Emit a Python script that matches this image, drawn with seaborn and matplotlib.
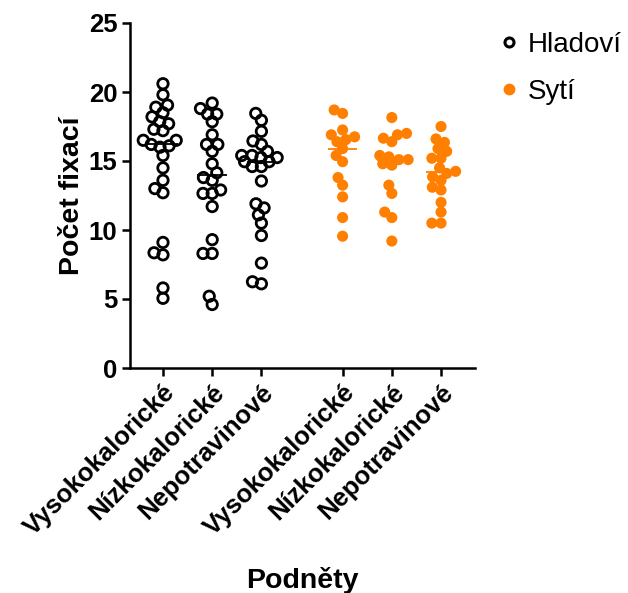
import numpy as np
import pandas as pd
import matplotlib
matplotlib.use("Agg")
import matplotlib.pyplot as plt
import seaborn as sns
from matplotlib.lines import Line2D

sns.set_theme(style="ticks")
plt.rcParams['font.family'] = ['Liberation Sans', 'DejaVu Sans']
plt.rcParams['text.color'] = 'black'
plt.rcParams['axes.labelcolor'] = 'black'
plt.rcParams['xtick.color'] = 'black'
plt.rcParams['ytick.color'] = 'black'

categories = ["Vysokokalorické", "Nízkokalorické", "Nepotravinové",
              "Vysokokalorické", "Nízkokalorické", "Nepotravinové"]
groups = ["Hladoví", "Hladoví", "Hladoví", "Sytí", "Sytí", "Sytí"]
positions = [0, 1, 2, 3.65, 4.65, 5.65]

hladovi_vysoko = [20.6, 19.8, 19.05, 18.9, 18.5, 18.2, 17.85, 17.7, 17.3, 17.2,
                  16.5, 16.5, 16.2, 16.1, 16.0, 15.4, 14.5, 13.6, 13.0, 12.7,
                  9.1, 8.35, 8.2, 5.8, 5.05]
hladovi_nizko = [19.2, 18.8, 18.4, 18.4, 17.85, 16.9, 16.2, 16.2, 15.7, 14.8,
                 14.15, 13.8, 13.6, 12.9, 12.65, 12.65, 11.7, 9.3, 8.3, 8.3,
                 5.2, 4.6]
hladovi_nepotr = [18.45, 17.95, 17.15, 16.45, 16.2, 15.7, 15.4, 15.4, 15.25,
                  15.25, 14.95, 14.95, 14.6, 14.6, 13.55, 11.9, 11.6, 11.1,
                  10.5, 9.6, 7.6, 6.25, 6.1]
syti_vysoko = [18.7, 18.45, 17.25, 16.9, 16.75, 16.55, 16.4, 15.9, 15.4, 14.95,
               13.8, 13.25, 12.4, 10.9, 9.55]
syti_nizko = [18.15, 17.0, 16.9, 16.65, 16.4, 15.4, 15.1, 15.1, 15.3, 14.7,
              14.8, 13.25, 12.65, 11.3, 10.9, 9.2]
syti_nepotr = [17.5, 16.6, 16.35, 15.9, 15.7, 15.2, 15.2, 14.25, 14.1, 14.5,
               13.85, 13.6, 13.1, 12.9, 12.0, 11.3, 10.5, 10.5]

series = [hladovi_vysoko, hladovi_nizko, hladovi_nepotr,
          syti_vysoko, syti_nizko, syti_nepotr]

rows = []
for pos, grp, vals in zip(positions, groups, series):
    for v in vals:
        rows.append({"pos": pos, "value": v, "group": grp})
df = pd.DataFrame(rows)

orange = "#FF8000"
fig = plt.figure(figsize=(6.28, 5.93), dpi=100)
ax = fig.add_axes([130/628, 1 - 368/593, (475 - 130)/628, (368 - 23)/593])

hung = df[df.group == "Hladoví"]
sated = df[df.group == "Sytí"]

# lay out the swarm with a smaller footprint, then enlarge markers (overlap like the reference)
sns.swarmplot(data=hung, x="pos", y="value", native_scale=True, color="black",
              size=6.3, ax=ax, zorder=3)
n_h = len(ax.collections)
sns.swarmplot(data=sated, x="pos", y="value", native_scale=True, color=orange,
              size=6.3, ax=ax, zorder=3, linewidth=0)

ax.set_xlim(-0.67, 6.34)
ax.set_ylim(0, 25)
fig.canvas.draw()
for i, coll in enumerate(list(ax.collections)):
    if "draw" in coll.__dict__:
        del coll.draw
    if i < n_h:
        coll.set_facecolor("none")
        coll.set_edgecolor("black")
        coll.set_linewidth(2.0)
        coll.set_sizes([7.5 ** 2] * len(coll.get_offsets()))
    else:
        coll.set_facecolor(orange)
        coll.set_edgecolor("none")
        coll.set_sizes([8.0 ** 2] * len(coll.get_offsets()))

# median lines
for pos, grp, vals in zip(positions, groups, series):
    col = "black" if grp == "Hladoví" else orange
    ax.hlines(np.median(vals), pos - 0.3, pos + 0.3, color=col, lw=1.3, zorder=4)

ax.set_xlim(-0.67, 6.34)
ax.set_ylim(0, 25)
ax.set_yticks([0, 5, 10, 15, 20, 25])
ax.set_yticklabels(["0", "5", "10", "15", "20", "25"], fontsize=18.5, fontweight="bold")
ax.set_xticks(positions)
ax.set_xticklabels(categories, rotation=45, ha="right", rotation_mode="anchor",
                   fontsize=18.5, fontweight="bold")
ax.tick_params(axis="both", length=6, width=1.8, color="black", pad=3)
for s in ["left", "bottom"]:
    ax.spines[s].set_linewidth(1.8)
    ax.spines[s].set_color("black")
sns.despine(ax=ax)
ax.set_xlabel("Podněty", fontsize=20.5, fontweight="bold", labelpad=19)
ax.set_ylabel("Počet fixací", fontsize=20.5, fontweight="bold", labelpad=3)

handles = [Line2D([], [], marker="o", linestyle="none", markerfacecolor="none",
                  markeredgecolor="black", markeredgewidth=2.2, markersize=6.5),
           Line2D([], [], marker="o", linestyle="none", markerfacecolor=orange,
                  markeredgecolor=orange, markersize=7.5)]
fig.legend(handles, ["Hladoví", "Sytí"], loc="upper left",
           bbox_to_anchor=(492/628, 1 - 32/593), frameon=False,
           fontsize=20, handletextpad=0.1, labelspacing=0.75, handlelength=1.2,
           borderaxespad=0, borderpad=0)

fig.savefig("out.png", dpi=100)
